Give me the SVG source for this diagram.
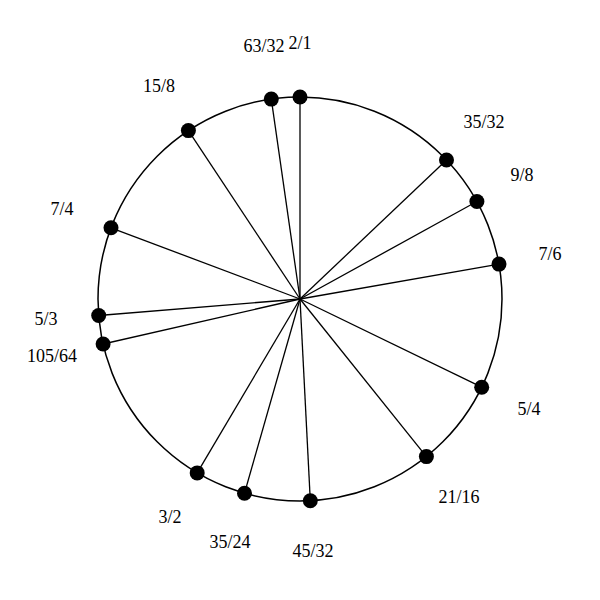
<svg xmlns="http://www.w3.org/2000/svg" width="600" height="600" viewBox="0 0 600 600">
<style>
.ring{fill:none;stroke:#000;stroke-width:1.5}
.spoke{stroke:#000;stroke-width:1.3}
.dot{fill:#000}
.lbl{font-family:"Liberation Serif","Times New Roman",serif;font-size:18px;fill:#000;text-anchor:middle}
</style>
<rect width="600" height="600" fill="#fff"/>
<circle class="ring" cx="300" cy="299" r="202"/>
<g id="connectors">
<line class="spoke" x1="300" y1="299" x2="300" y2="97"/>
<line class="spoke" x1="300" y1="299" x2="271.3" y2="99.1"/>
<line class="spoke" x1="300" y1="299" x2="188.4" y2="130.6"/>
<line class="spoke" x1="300" y1="299" x2="111" y2="227.8"/>
<line class="spoke" x1="300" y1="299" x2="98.7" y2="315.5"/>
<line class="spoke" x1="300" y1="299" x2="103.1" y2="344"/>
<line class="spoke" x1="300" y1="299" x2="197.2" y2="472.9"/>
<line class="spoke" x1="300" y1="299" x2="244.5" y2="493.2"/>
<line class="spoke" x1="300" y1="299" x2="310.3" y2="500.7"/>
<line class="spoke" x1="300" y1="299" x2="426.4" y2="456.6"/>
<line class="spoke" x1="300" y1="299" x2="481.7" y2="387.2"/>
<line class="spoke" x1="300" y1="299" x2="499" y2="264.1"/>
<line class="spoke" x1="300" y1="299" x2="476.9" y2="201.5"/>
<line class="spoke" x1="300" y1="299" x2="446.5" y2="160"/>
</g>
<g id="n-2-1"><circle class="dot" cx="300" cy="97" r="7.5"/><text class="lbl" x="300" y="49">2/1</text></g>
<g id="n-63-32"><circle class="dot" cx="271.3" cy="99.1" r="7.5"/><text class="lbl" x="264" y="52">63/32</text></g>
<g id="n-15-8"><circle class="dot" cx="188.4" cy="130.6" r="7.5"/><text class="lbl" x="159" y="92">15/8</text></g>
<g id="n-7-4"><circle class="dot" cx="111" cy="227.8" r="7.5"/><text class="lbl" x="62" y="215">7/4</text></g>
<g id="n-5-3"><circle class="dot" cx="98.7" cy="315.5" r="7.5"/><text class="lbl" x="46" y="325">5/3</text></g>
<g id="n-105-64"><circle class="dot" cx="103.1" cy="344" r="7.5"/><text class="lbl" x="52" y="362">105/64</text></g>
<g id="n-3-2"><circle class="dot" cx="197.2" cy="472.9" r="7.5"/><text class="lbl" x="170" y="523">3/2</text></g>
<g id="n-35-24"><circle class="dot" cx="244.5" cy="493.2" r="7.5"/><text class="lbl" x="230" y="548">35/24</text></g>
<g id="n-45-32"><circle class="dot" cx="310.3" cy="500.7" r="7.5"/><text class="lbl" x="313" y="557">45/32</text></g>
<g id="n-21-16"><circle class="dot" cx="426.4" cy="456.6" r="7.5"/><text class="lbl" x="459" y="503">21/16</text></g>
<g id="n-5-4"><circle class="dot" cx="481.7" cy="387.2" r="7.5"/><text class="lbl" x="529" y="415">5/4</text></g>
<g id="n-7-6"><circle class="dot" cx="499" cy="264.1" r="7.5"/><text class="lbl" x="550" y="260">7/6</text></g>
<g id="n-9-8"><circle class="dot" cx="476.9" cy="201.5" r="7.5"/><text class="lbl" x="522" y="181">9/8</text></g>
<g id="n-35-32"><circle class="dot" cx="446.5" cy="160" r="7.5"/><text class="lbl" x="484" y="128">35/32</text></g>
</svg>
